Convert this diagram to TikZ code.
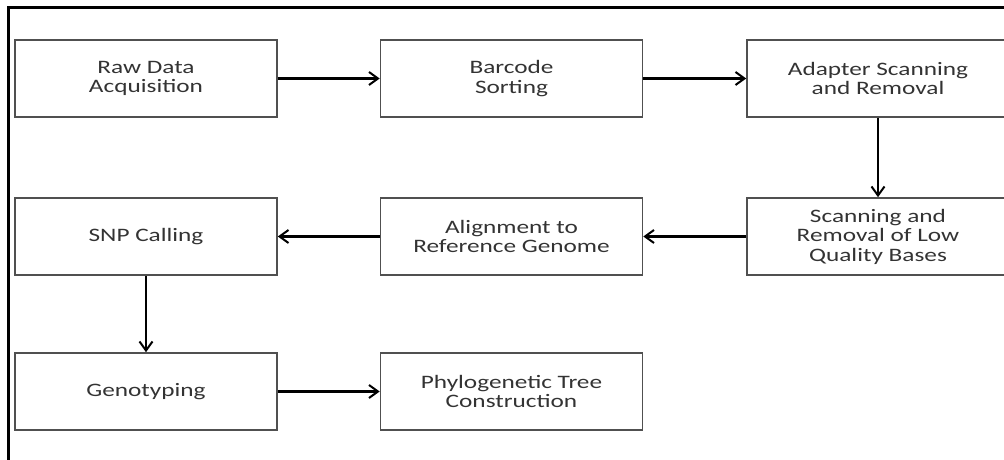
\documentclass[tikz,border=0pt]{standalone}
\usepackage{fontspec}
\setmainfont[FakeStretch=1.33]{Carlito}
\usepackage{tikz}
\usetikzlibrary{arrows.meta}
\definecolor{boxline}{HTML}{505050}
\definecolor{boxtext}{HTML}{333333}

\begin{document}
\begin{tikzpicture}[x=1pt, y=1pt,
    box/.style={draw=boxline, line width=1.6pt, minimum width=262pt, minimum height=77pt,
      align=center, text=boxtext, font=\fontsize{19}{19.5}\selectfont},
    arr/.style={line width=2.4pt, -{Straight Barb[length=9pt, width=13pt, line width=2pt]}}]
        \useasboundingbox (0, 0) rectangle (1004, 460);
        \draw[line width=2.6pt] (8.5, 0) -- (8.5, 452.5) -- (1004, 452.5);

        \node[box] (raw) at (146, 381.5) {Raw Data\\Acquisition};
        \node[box] (barcode) at (511.5, 381.5) {Barcode\\Sorting};
        \node[box] (adapter) at (878, 381.5) {Adapter Scanning\\and Removal};
        \node[box] (snp) at (146, 223.5) {SNP Calling};
        \node[box] (align) at (511.5, 223.5) {Alignment to\\Reference Genome};
        \node[box] (lowqual) at (878, 223.5) {Scanning and\\Removal of Low\\Quality Bases};
        \node[box] (geno) at (146, 68.5) {Genotyping};
        \node[box] (tree) at (511.5, 68.5) {Phylogenetic Tree\\Construction};

        \draw[arr] (raw) -- (barcode);
        \draw[arr] (barcode) -- (adapter);
        \draw[arr] (adapter) -- (lowqual);
        \draw[arr] (lowqual) -- (align);
        \draw[arr] (align) -- (snp);
        \draw[arr] (snp) -- (geno);
        \draw[arr] (geno) -- (tree);
\end{tikzpicture}
\end{document}
